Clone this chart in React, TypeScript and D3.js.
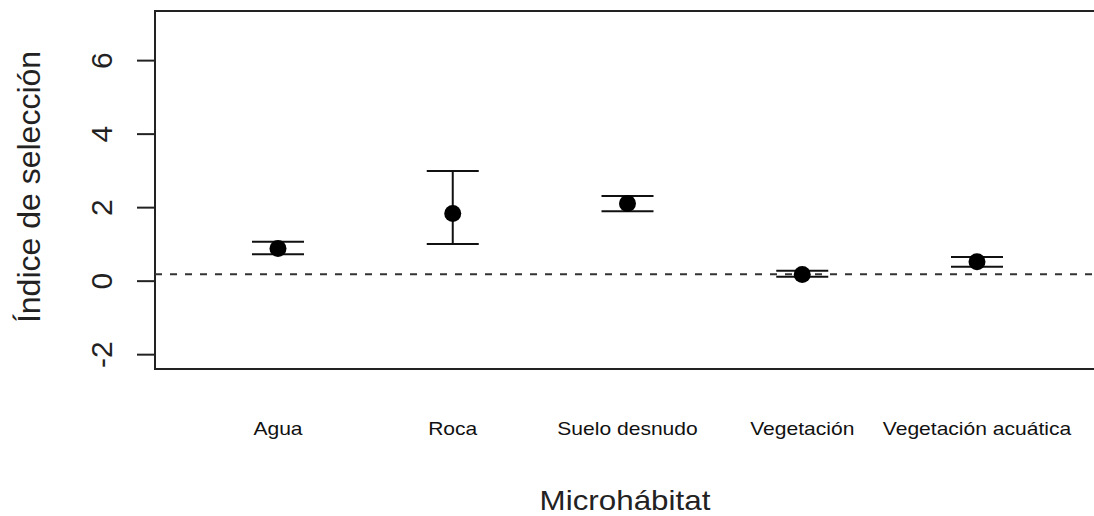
import React from "react";
import * as d3 from "d3";

const categories = ["Agua", "Roca", "Suelo desnudo", "Vegetación", "Vegetación acuática"];
const means = [0.89, 1.84, 2.11, 0.18, 0.53];
const upper = [1.07, 3.0, 2.32, 0.28, 0.66];
const lower = [0.73, 1.01, 1.9, 0.12, 0.39];
const yTicks = [-2, 0, 2, 4, 6];
const refLine = 0.19;

const W = 1094;
const H = 516;
const left = 155;
const top = 11;
const bottom = 369;
const right = 1100;

export default function App() {
  const y = d3.scaleLinear().domain([-2.39, 7.35]).range([bottom, top]);
  const x = d3.scaleLinear().domain([0, 4]).range([278, 977]);
  const capHalf = 26;
  const font = "'Liberation Sans', Arial, sans-serif";
  return (
    <svg width={W} height={H} style={{ position: "absolute", left: 0, top: 0, background: "#fff" }}>
      <rect x={left} y={top} width={right - left} height={bottom - top} fill="none" stroke="#222" strokeWidth={2} />
      {yTicks.map((t) => (
        <g key={t}>
          <line x1={137} x2={left} y1={y(t)} y2={y(t)} stroke="#222" strokeWidth={2} />
          <text
            transform={`translate(${112},${y(t)}) rotate(-90)`}
            textAnchor="middle"
            fontFamily={font}
            fontSize={30}
            fill="#222"
          >
            {t}
          </text>
        </g>
      ))}
      <line x1={left} x2={right} y1={y(refLine)} y2={y(refLine)} stroke="#333" strokeWidth={2} strokeDasharray="7,8" />
      {categories.map((c, i) => (
        <g key={c}>
          <line x1={x(i)} x2={x(i)} y1={y(upper[i])} y2={y(lower[i])} stroke="#111" strokeWidth={2} />
          <line x1={x(i) - capHalf} x2={x(i) + capHalf} y1={y(upper[i])} y2={y(upper[i])} stroke="#111" strokeWidth={2} />
          <line x1={x(i) - capHalf} x2={x(i) + capHalf} y1={y(lower[i])} y2={y(lower[i])} stroke="#111" strokeWidth={2} />
          <circle cx={x(i)} cy={y(means[i])} r={8.5} fill="#000" />
          <text
            transform={`translate(${x(i)},${435}) scale(1.17,1)`}
            textAnchor="middle"
            fontFamily={font}
            fontSize={18}
            fill="#111"
          >
            {c}
          </text>
        </g>
      ))}
      <text
        transform={`translate(${625},${510}) scale(1.12,1)`}
        textAnchor="middle"
        fontFamily={font}
        fontSize={28}
        fill="#222"
      >
        Microhábitat
      </text>
      <text
        transform={`translate(${40},${187}) rotate(-90)`}
        textAnchor="middle"
        fontFamily={font}
        fontSize={32}
        fill="#222"
      >
        Índice de selección
      </text>
    </svg>
  );
}
